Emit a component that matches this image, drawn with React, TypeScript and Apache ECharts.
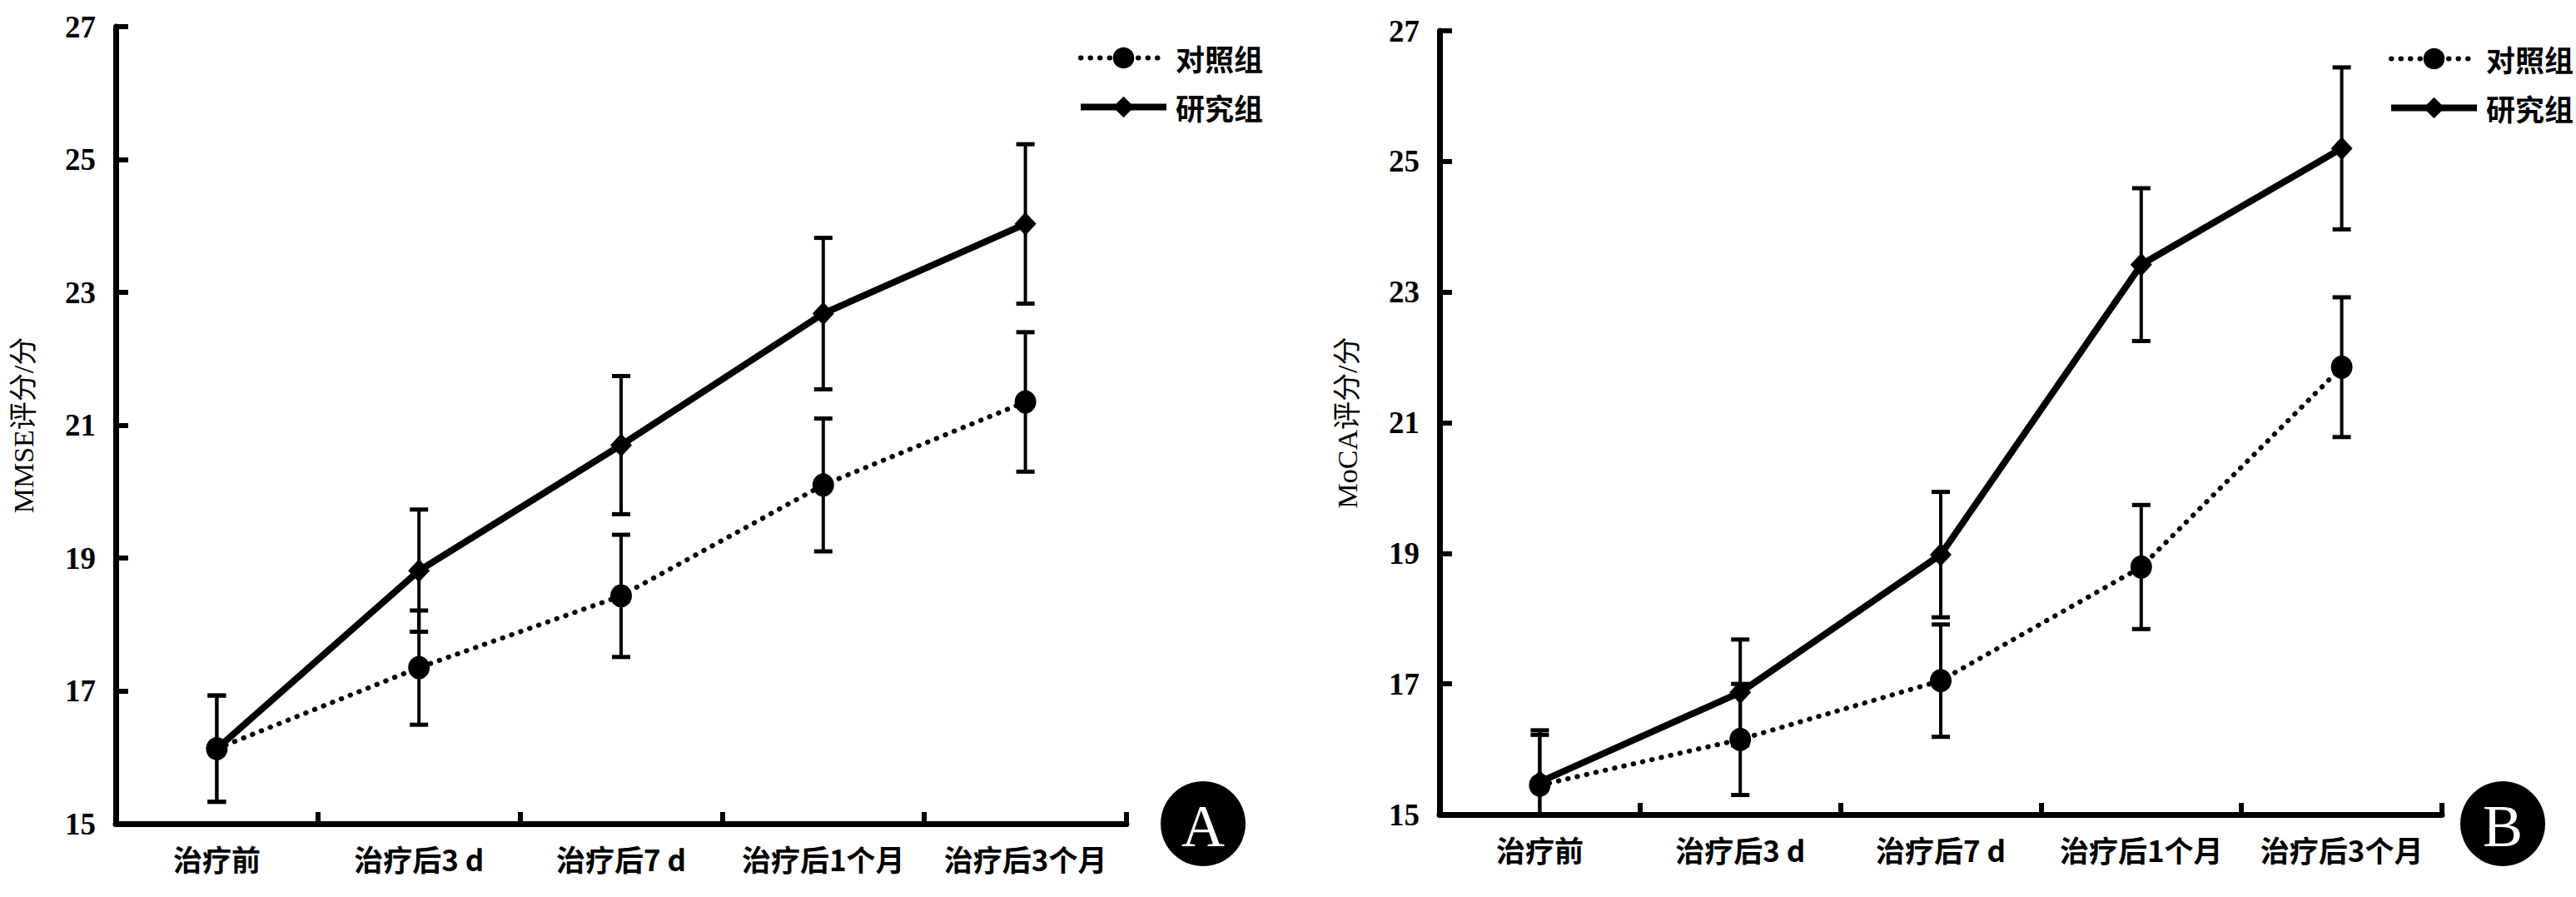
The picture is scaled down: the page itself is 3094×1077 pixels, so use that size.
import React, { useEffect, useRef } from "react";
import * as echarts from "echarts";

// ---- data ----
const categories = ["治疗前", "治疗后3 d", "治疗后7 d", "治疗后1个月", "治疗后3个月"];
const legendNames = ["对照组", "研究组"];
const yTicks = { min: 15, max: 27, interval: 2 };

// Panel A: MMSE
const mmseControl = [16.13, 17.35, 18.43, 20.1, 21.35];
const mmseControlSD = [0.8, 0.86, 0.92, 1.0, 1.05];
const mmseStudy = [16.13, 18.81, 20.7, 22.68, 24.03];
const mmseStudySD = [0.8, 0.92, 1.04, 1.14, 1.2];

// Panel B: MoCA
const mocaControl = [15.45, 16.15, 17.05, 18.79, 21.85];
const mocaControlSD = [0.84, 0.85, 0.86, 0.95, 1.07];
const mocaStudy = [15.5, 16.87, 18.98, 23.42, 25.2];
const mocaStudySD = [0.72, 0.81, 0.96, 1.17, 1.24];

const yNames = ["MMSE评分/分", "MoCA评分/分"];
const panelLetters = ["A", "B"];

const CJK = '"Noto Sans CJK SC", "Noto Sans", sans-serif';
const SERIF = '"Liberation Serif", "DejaVu Serif", "Noto Sans CJK SC", serif';

function errorBars(name: string, idx: number, means: number[], sds: number[]) {
  return {
    type: "custom",
    name,
    xAxisIndex: idx,
    yAxisIndex: idx,
    clip: true,
    silent: true,
    z: 2,
    data: means.map((m, i) => [i, m, sds[i]]),
    encode: { x: 0, y: 1 },
    renderItem: (params: any, api: any) => {
      const x = api.value(0);
      const m = api.value(1);
      const sd = api.value(2);
      const top = api.coord([x, m + sd]);
      const bot = api.coord([x, m - sd]);
      const half = 11;
      const st = { stroke: "#000", lineWidth: 4 };
      return {
        type: "group",
        children: [
          { type: "line", shape: { x1: top[0], y1: top[1], x2: bot[0], y2: bot[1] }, style: st },
          { type: "line", shape: { x1: top[0] - half, y1: top[1], x2: top[0] + half, y2: top[1] }, style: { stroke: "#000", lineWidth: 5 } },
          { type: "line", shape: { x1: bot[0] - half, y1: bot[1], x2: bot[0] + half, y2: bot[1] }, style: { stroke: "#000", lineWidth: 5 } },
        ],
      };
    },
  };
}

function lineSeries(name: string, idx: number, data: number[], dotted: boolean) {
  return {
    type: "line",
    name,
    xAxisIndex: idx,
    yAxisIndex: idx,
    data,
    z: 3,
    symbol: dotted ? "circle" : "diamond",
    symbolSize: [26, 28],
    itemStyle: { color: "#000" },
    lineStyle: dotted
      ? { color: "#000", width: 6, type: [0.5, 11], cap: "round" }
      : { color: "#000", width: 8, type: "solid" },
  };
}

export default function App() {
  const ref = useRef<HTMLDivElement>(null);
  useEffect(() => {
    document.body.style.margin = "0";
    const chart = echarts.init(ref.current!, null, { renderer: "svg" });
    const grids = [
      { left: 139, top: 32, width: 1214, height: 957 },
      { left: 1729, top: 37, width: 1204, height: 941 },
    ];
    const xAxes = grids.map((_, i) => ({
      type: "category",
      gridIndex: i,
      data: categories,
      boundaryGap: true,
      axisLine: { show: true, lineStyle: { color: "#000", width: 7 } },
      axisTick: { show: true, inside: true, length: 14, lineStyle: { color: "#000", width: 6 } },
      axisLabel: { interval: 0, margin: 24, color: "#000", fontSize: 35, fontWeight: "bold", fontFamily: CJK },
      splitLine: { show: false },
    }));
    const yAxes = grids.map((_, i) => ({
      type: "value",
      gridIndex: i,
      min: yTicks.min,
      max: yTicks.max,
      interval: yTicks.interval,
      name: yNames[i],
      nameLocation: "middle",
      nameGap: 94,
      nameMoveOverlap: false,
      nameTextStyle: { color: "#000", fontSize: 34, fontFamily: SERIF },
      axisLine: { show: true, lineStyle: { color: "#000", width: 7 } },
      axisTick: { show: true, inside: true, length: 15, lineStyle: { color: "#000", width: 6 } },
      axisLabel: { margin: 24, color: "#000", fontSize: 37, fontWeight: "bold", fontFamily: SERIF },
      splitLine: { show: false },
    }));
    const legendCommon = {
      orient: "vertical",
      itemWidth: 103,
      itemHeight: 32,
      itemGap: 24,
      selectedMode: false,
      data: [
        { name: legendNames[0], lineStyle: { width: 6, type: [0.5, 11], cap: "round", color: "#000" } },
        { name: legendNames[1], lineStyle: { width: 8, type: "solid", color: "#000" } },
      ],
      textStyle: { color: "#000", fontSize: 35, fontWeight: "bold", fontFamily: CJK, lineHeight: 32, padding: [0, 0, 0, 6] },
    };
    const circles = [
      { cx: 1445, cy: 989 },
      { cx: 3006, cy: 989 },
    ];
    chart.setOption({
      animation: false,
      backgroundColor: "#fff",
      grid: grids,
      xAxis: xAxes,
      yAxis: yAxes,
      legend: [
        { ...legendCommon, left: 1289, top: 47 },
        { ...legendCommon, left: 2863, top: 48 },
      ],
      graphic: circles.flatMap((c, i) => [
        { type: "circle", shape: { cx: c.cx, cy: c.cy, r: 51 }, style: { fill: "#000" } },
        {
          type: "text",
          x: c.cx,
          y: c.cy + 3,
          style: { text: panelLetters[i], fill: "#fff", fontSize: 72, fontFamily: SERIF, align: "center", verticalAlign: "middle" },
        },
      ]),
      series: [
        errorBars("对照组误差A", 0, mmseControl, mmseControlSD),
        errorBars("研究组误差A", 0, mmseStudy, mmseStudySD),
        lineSeries("对照组", 0, mmseControl, true),
        lineSeries("研究组", 0, mmseStudy, false),
        errorBars("对照组误差B", 1, mocaControl, mocaControlSD),
        errorBars("研究组误差B", 1, mocaStudy, mocaStudySD),
        lineSeries("对照组", 1, mocaControl, true),
        lineSeries("研究组", 1, mocaStudy, false),
      ],
    });
    return () => chart.dispose();
  }, []);
  return <div ref={ref} style={{ width: 3094, height: 1077 }} />;
}
